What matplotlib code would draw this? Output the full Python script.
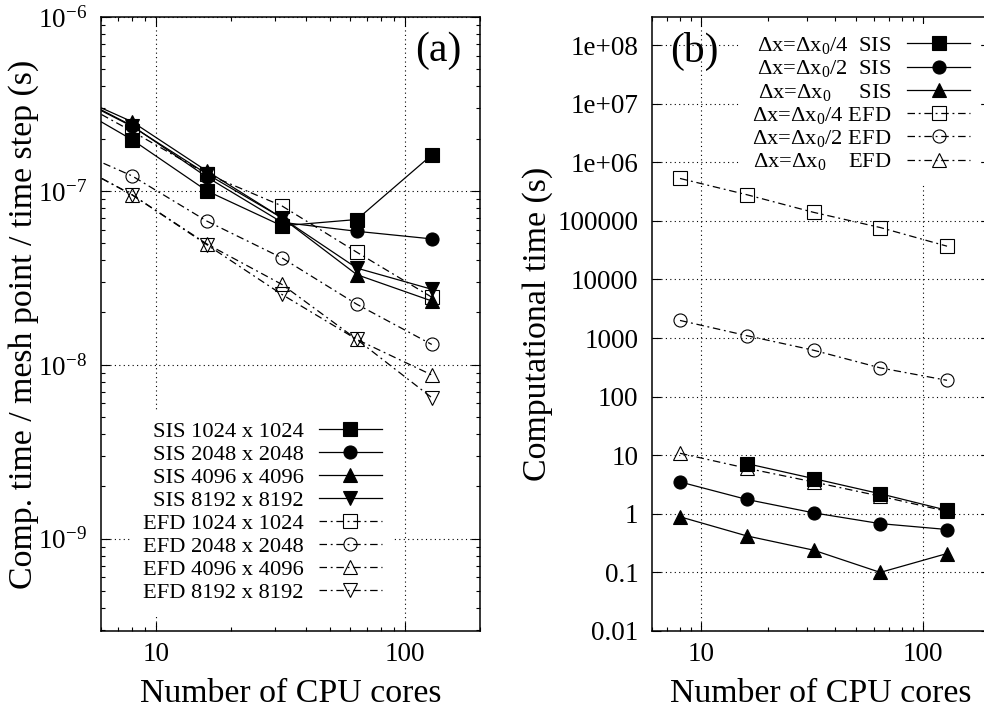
import numpy as np
import matplotlib
matplotlib.use('Agg')
import matplotlib.pyplot as plt
from matplotlib.ticker import LogLocator, NullFormatter, NullLocator

plt.rcParams['font.family'] = ['Liberation Serif', 'DejaVu Serif']
plt.rcParams['mathtext.fontset'] = 'custom'
plt.rcParams['mathtext.rm'] = 'Liberation Serif'
plt.rcParams['mathtext.it'] = 'Liberation Serif:italic'
plt.rcParams['mathtext.bf'] = 'Liberation Serif:bold'

# ---------------- data: panel (a) ----------------
cores_a = [4, 8, 16, 32, 64, 128]
sis_1024 = [3.5e-7, 1.97e-7, 1.0e-7, 6.3e-8, 6.85e-8, 1.61e-7]
sis_2048 = [3.95e-7, 2.37e-7, 1.2e-7, 6.6e-8, 5.86e-8, 5.3e-8]
sis_4096 = [3.9e-7, 2.5e-7, 1.3e-7, 7.0e-8, 3.3e-8, 2.33e-8]
sis_8192 = [3.9e-7, 2.35e-7, 1.25e-7, 7.0e-8, 3.6e-8, 2.72e-8]
efd_1024 = [3.8e-7, 2.2e-7, 1.25e-7, 8.2e-8, 4.44e-8, 2.45e-8]
efd_2048 = [1.89e-7, 1.22e-7, 6.7e-8, 4.12e-8, 2.23e-8, 1.31e-8]
efd_4096 = [1.62e-7, 9.5e-8, 4.95e-8, 2.9e-8, 1.40e-8, 8.75e-9]
efd_8192 = [1.62e-7, 9.5e-8, 4.9e-8, 2.54e-8, 1.40e-8, 6.48e-9]
labels_a = ['SIS 1024 x 1024', 'SIS 2048 x 2048', 'SIS 4096 x 4096', 'SIS 8192 x 8192',
            'EFD 1024 x 1024', 'EFD 2048 x 2048', 'EFD 4096 x 4096', 'EFD 8192 x 8192']
yticks_a = [1e-9, 1e-8, 1e-7, 1e-6]
yticklabels_a = ['$10^{-9}$', '$10^{-8}$', '$10^{-7}$', '$10^{-6}$']

# ---------------- data: panel (b) ----------------
cores_b = [8, 16, 32, 64, 128]
cores_b_sis4 = [16, 32, 64, 128]
sis_dx4 = [7.2, 4.0, 2.2, 1.15]
sis_dx2 = [3.5, 1.76, 1.04, 0.68, 0.54]
sis_dx1 = [0.89, 0.42, 0.24, 0.10, 0.21]
efd_dx4 = [5.3e5, 2.8e5, 1.4e5, 7.7e4, 3.7e4]
efd_dx2 = [2.0e3, 1.1e3, 620, 310, 190]
efd_dx1 = [10.8, 6.0, 3.5, 2.0, 1.1]
labels_b = ['Δx=Δx$_0$/4  SIS', 'Δx=Δx$_0$/2  SIS', 'Δx=Δx$_0$     SIS',
            'Δx=Δx$_0$/4 EFD', 'Δx=Δx$_0$/2 EFD', 'Δx=Δx$_0$    EFD']
yticks_b = [1e-2, 1e-1, 1, 10, 100, 1000, 1e4, 1e5, 1e6, 1e7, 1e8]
yticklabels_b = ['0.01', '0.1', '1', '10', '100', '1000', '10000', '100000',
                 '1e+06', '1e+07', '1e+08']
xticks = [10, 100]
xticklabels = ['10', '100']

# ---------------- styles ----------------
W, H = 984, 709
fig = plt.figure(figsize=(W / 100, H / 100), dpi=100)

def frac(x0, y0, x1, y1):
    return [x0 / W, 1 - y1 / H, (x1 - x0) / W, (y1 - y0) / H]

ax_a = fig.add_axes(frac(101, 17, 480, 631))
ax_b = fig.add_axes(frac(652.3, 17, 990, 631))

LW = 0.9
MS = 9.4
DASHDOT = (0, (6, 3, 1.5, 3))
solid = dict(color='black', lw=LW, ls='-', mfc='black', mec='black', ms=MS, mew=0.8)
hollow = dict(color='black', lw=LW, ls=DASHDOT, mfc='none', mec='black', ms=MS, mew=0.8)

TICK_FS = 19.5
LAB_FS = 24.4
LEG_FS = 16.2

def style_axes(ax, ylim, yminor=True):
    ax.set_xscale('log')
    ax.set_yscale('log')
    ax.set_xlim(6, 200)
    ax.set_ylim(*ylim)
    ax.set_xticks(xticks, xticklabels)
    ax.xaxis.set_minor_locator(LogLocator(base=10, subs=np.arange(2, 10)))
    ax.xaxis.set_minor_formatter(NullFormatter())
    if yminor:
        ax.yaxis.set_minor_locator(LogLocator(base=10, subs=np.arange(2, 10), numticks=50))
    else:
        ax.yaxis.set_minor_locator(NullLocator())
    ax.yaxis.set_minor_formatter(NullFormatter())
    ax.tick_params(which='both', direction='in', top=True, right=True, width=0.8)
    ax.tick_params(which='major', length=6.5)
    ax.tick_params(which='minor', length=3.2)
    ax.tick_params(axis='x', which='major', labelsize=TICK_FS, pad=8)
    ax.tick_params(axis='y', which='major', labelsize=TICK_FS, pad=10)
    for s in ax.spines.values():
        s.set_linewidth(1.1)
    ax.grid(True, which='major', color='black', lw=0.8, ls=(0, (1, 3)))
    ax.set_axisbelow(True)

# ---------------- panel (a) ----------------
series_a = [(sis_1024, 's', solid), (sis_2048, 'o', solid), (sis_4096, '^', solid),
            (sis_8192, 'v', solid), (efd_1024, 's', hollow), (efd_2048, 'o', hollow),
            (efd_4096, '^', hollow), (efd_8192, 'v', hollow)]
for (vals, mk, st), lab in zip(series_a, labels_a):
    ax_a.plot(cores_a, vals, marker=mk, label=lab, **st)
style_axes(ax_a, (2.95e-10, 1e-6))
ax_a.set_yticks(yticks_a, yticklabels_a)
ax_a.yaxis.set_minor_locator(LogLocator(base=10, subs=np.arange(2, 10), numticks=50))
ax_a.yaxis.set_minor_formatter(NullFormatter())

leg_a = ax_a.legend(loc='upper right', bbox_to_anchor=(0.7704, 0.36), markerfirst=False,
                    fontsize=LEG_FS, frameon=True, fancybox=False, edgecolor='none',
                    facecolor='white', framealpha=1.0, borderpad=0.5, labelspacing=0.1,
                    handlelength=2.8, handletextpad=0.67, numpoints=1, borderaxespad=0)

# ---------------- panel (b) ----------------
ax_b.plot(cores_b_sis4, sis_dx4, marker='s', label=labels_b[0], **solid)
ax_b.plot(cores_b, sis_dx2, marker='o', label=labels_b[1], **solid)
ax_b.plot(cores_b, sis_dx1, marker='^', label=labels_b[2], **solid)
ax_b.plot(cores_b, efd_dx4, marker='s', label=labels_b[3], **hollow)
ax_b.plot(cores_b, efd_dx2, marker='o', label=labels_b[4], **hollow)
ax_b.plot(cores_b, efd_dx1, marker='^', label=labels_b[5], **hollow)
style_axes(ax_b, (1e-2, 10 ** 8.48), yminor=False)
ax_b.set_yticks(yticks_b, yticklabels_b)
ax_b.yaxis.set_minor_locator(NullLocator())

leg_b = ax_b.legend(loc='upper right', bbox_to_anchor=(0.9733, 0.9886), markerfirst=False,
                    fontsize=LEG_FS, frameon=True, fancybox=False, edgecolor='none',
                    facecolor='white', framealpha=1.0, borderpad=0.5, labelspacing=0.1,
                    handlelength=2.77, handletextpad=0.7, numpoints=1, borderaxespad=0)

# ---------------- labels ----------------
ax_a.set_xlabel('Number of CPU cores', fontsize=LAB_FS, labelpad=8)
ax_b.set_xlabel('Number of CPU cores', fontsize=LAB_FS, labelpad=8)
fig.text(24 / W, 1 - 324 / H, 'Comp. time / mesh point / time step (s)', rotation=90,
         ha='center', va='center', fontsize=LAB_FS)
fig.text(538 / W, 1 - 324 / H, 'Computational time (s)', rotation=90,
         ha='center', va='center', fontsize=LAB_FS)
fig.text(415 / W, 1 - 51 / H, '(a)', ha='left', va='center', fontsize=30)
fig.text(670 / W, 1 - 51 / H, '(b)', ha='left', va='center', fontsize=30)

fig.savefig('out.png', dpi=100)
